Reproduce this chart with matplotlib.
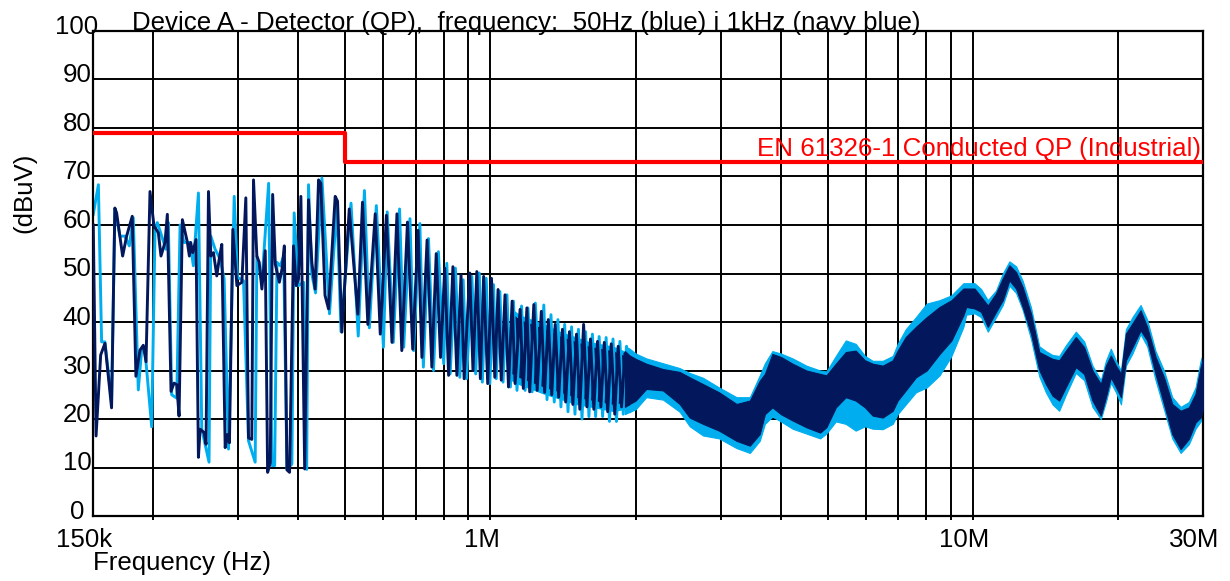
import matplotlib
matplotlib.use("Agg")
import matplotlib.pyplot as plt
import numpy as np

plt.rcParams['font.family'] = ['Liberation Sans', 'DejaVu Sans']

TITLE = "Device A - Detector (QP),  frequency:  50Hz (blue) i 1kHz (navy blue)"
YLABEL = "(dBuV)"
XLABEL = "Frequency (Hz)"
LIMIT_LABEL = "EN 61326-1 Conducted QP (Industrial)"

# limit line (kHz, dBuV), drawn as a post-step
limit_freq_khz = [150, 500, 30000]
limit_db = [79, 73, 73]

# x tick labels
xtick_khz = [150, 1000, 10000, 30000]
xtick_labels = ["150k", "1M", "10M", "30M"]
ytick_values = [0, 10, 20, 30, 40, 50, 60, 70, 80, 90, 100]

# vertical grid (kHz)
xgrid_khz = [200, 300, 400, 500, 600, 700, 800, 900, 1000, 2000, 3000, 4000,
             5000, 6000, 7000, 8000, 9000, 10000, 20000]

# ---- 1 kHz (navy) trace, resolved region: frequency kHz / level dBuV
navy_freq = [150.2, 152.2, 155.6, 158.8, 163.9, 166.5, 167.9, 172.8, 176.1, 180.9,
             184.1, 187.7, 190.7, 193.2, 196.9, 200.7, 204.9, 207.5, 211.5, 213.9,
             217.7, 220.8, 223.7, 226.2, 229.8, 235.4, 237.6, 239.1, 241.4, 245.3,
             248.1, 250.1, 254.9, 257.3, 260.3, 263.2, 266.6, 270.8, 274.3, 277.4,
             281.9, 285.0, 287.7, 292.4, 298.1, 305.3, 311.1, 315.1, 320.1, 322.7,
             327.9, 331.6, 335.9, 341.3, 345.2, 349.6, 353.6, 358.1, 365.1, 369.7,
             373.9, 378.6, 383.3, 390.6, 395.6, 400.0, 404.6, 412.0, 419.6, 426.3,
             433.0, 440.2, 445.0, 454.0, 461.7, 476.6, 482.0, 492.0, 509.7, 531.0,
             543.0, 557.0, 577.0, 591.0, 608.6, 625.0, 640.0, 655.0, 673.0, 690.0,
             708.0, 721.0, 739.0, 756.0, 772.0, 788.0, 804.0, 819.0, 836.0, 852.0,
             869.0, 882.0, 906.0, 920.0, 937.0, 953.0, 968.0, 987.0, 1005.0, 1021.0,
             1037.0, 1053.0, 1072.0, 1090.0, 1109.0, 1125.0, 1152.0, 1170.0, 1190.0, 1206.0,
             1230.0, 1250.0, 1275.0, 1295.0, 1318.0, 1340.0, 1362.0, 1385.0, 1410.0, 1432.0,
             1458.0, 1482.0, 1508.0, 1532.0, 1560.0, 1585.0, 1612.0, 1638.0, 1667.0, 1694.0,
             1722.0, 1750.0, 1780.0, 1810.0, 1840.0, 1870.0, 1900.0, 1930.0]
navy_db = [60.0, 16.5, 33.2, 35.6, 22.3, 63.5, 62.5, 53.6, 57.7, 61.8,
           28.8, 34.2, 35.2, 31.8, 66.9, 59.8, 58.4, 53.6, 56.4, 62.2,
           25.7, 27.4, 27.1, 20.6, 61.1, 56.4, 53.6, 56.4, 54.3, 57.0,
           12.1, 17.9, 17.2, 14.8, 66.9, 53.6, 54.3, 49.5, 53.3, 56.0,
           14.1, 16.8, 15.1, 59.1, 47.5, 48.2, 65.6, 16.1, 15.8, 69.3,
           53.6, 52.3, 46.8, 54.7, 9.0, 11.0, 66.3, 51.9, 48.2, 50.9,
           55.7, 9.5, 9.0, 55.7, 47.5, 48.9, 65.9, 9.7, 65.2, 52.3,
           46.8, 69.3, 68.6, 45.5, 42.7, 65.9, 64.9, 37.9, 63.3, 41.6,
           64.7, 39.5, 62.3, 37.5, 62.0, 35.8, 62.3, 34.1, 60.6, 34.4,
           58.9, 32.7, 56.9, 30.7, 54.1, 32.7, 51.1, 29.0, 51.4, 29.0,
           49.7, 28.3, 50.1, 30.0, 50.4, 28.3, 49.4, 27.3, 49.0, 28.6,
           46.7, 28.0, 45.6, 26.6, 44.3, 27.3, 42.6, 26.3, 42.9, 25.6,
           43.6, 25.9, 42.2, 25.5, 40.5, 25.0, 39.5, 24.5, 38.5, 23.5,
           38.0, 23.0, 37.5, 22.0, 39.5, 22.5, 36.5, 22.0, 36.0, 22.5,
           35.8, 21.5, 35.5, 21.0, 35.0, 22.5, 33.5, 23.0]

# ---- 50 Hz (light blue) trace, resolved region
blue_freq = [150.2, 153.9, 156.3, 158.8, 163.9, 166.5, 170.6, 174.7, 178.4, 181.8,
             186.2, 189.2, 192.2, 198.5, 201.7, 203.9, 208.2, 212.5, 214.9, 218.4,
             223.7, 227.3, 231.6, 238.4, 242.2, 248.1, 252.1, 261.0, 263.2, 268.7,
             275.2, 280.5, 286.4, 294.3, 299.0, 307.7, 315.1, 325.3, 327.9, 335.9,
             346.9, 352.4, 357.0, 361.0, 366.8, 372.7, 378.6, 387.6, 391.8, 400.0,
             409.8, 416.0, 419.6, 426.0, 434.0, 447.3, 463.8, 480.5, 490.0, 514.0,
             532.0, 548.0, 561.0, 580.0, 600.0, 611.0, 629.0, 648.0, 661.0, 681.0,
             693.0, 714.0, 726.0, 744.0, 762.0, 780.0, 800.0, 812.0, 825.0, 846.0,
             864.0, 878.0, 892.0, 915.0, 932.0, 948.0, 962.0, 980.0, 997.0, 1015.0,
             1028.0, 1046.0, 1062.0, 1082.0, 1100.0, 1116.0, 1135.0, 1160.0, 1180.0, 1196.0,
             1220.0, 1239.0, 1265.0, 1290.0, 1310.0, 1335.0, 1356.0, 1380.0, 1400.0, 1425.0,
             1448.0, 1473.0, 1497.0, 1522.0, 1548.0, 1575.0, 1600.0, 1627.0, 1652.0, 1680.0,
             1708.0, 1737.0, 1765.0, 1795.0, 1825.0, 1855.0, 1885.0, 1915.0, 1945.0]
blue_db = [62.2, 68.3, 35.9, 35.9, 23.6, 63.2, 57.7, 57.7, 55.7, 61.5,
           26.0, 34.2, 34.2, 18.4, 59.1, 60.5, 57.7, 55.0, 60.5, 25.0,
           24.3, 60.0, 56.4, 56.4, 51.6, 66.6, 17.9, 11.1, 57.7, 55.0,
           53.0, 48.9, 13.8, 65.9, 49.2, 48.5, 15.5, 11.1, 53.6, 48.2,
           68.6, 10.4, 10.4, 52.3, 51.6, 53.6, 9.7, 10.7, 62.5, 47.5,
           48.2, 9.6, 68.3, 50.0, 46.0, 69.7, 41.7, 63.9, 38.0, 64.5,
           37.1, 67.1, 38.8, 64.0, 34.8, 62.7, 35.8, 63.3, 34.8, 61.3,
           34.1, 60.3, 30.7, 57.2, 30.0, 54.5, 31.4, 52.1, 29.3, 51.1,
           28.6, 48.7, 28.3, 49.4, 29.3, 50.1, 27.6, 49.0, 27.3, 47.7,
           28.3, 46.3, 27.6, 45.6, 26.6, 44.3, 25.9, 43.3, 25.9, 42.9,
           25.6, 43.9, 25.9, 43.5, 24.0, 41.5, 23.5, 40.5, 22.5, 39.5,
           21.5, 39.0, 21.0, 38.5, 20.0, 38.0, 20.5, 37.5, 20.5, 37.0,
           20.5, 36.8, 19.5, 36.5, 19.5, 36.0, 21.0, 35.0, 21.5]

# ---- packed core of the traces between ~1.1 MHz and ~1.95 MHz (kHz, upper, lower)
core_freq = [1100, 1150, 1300, 1400, 1500, 1600, 1700, 1800, 1900, 1950]
navy_core_upper = [42.0, 40.5, 38.5, 37.0, 36.0, 35.0, 34.5, 34.0, 33.0, 33.0]
navy_core_lower = [29.5, 28.5, 26.5, 25.5, 24.5, 24.0, 23.5, 23.0, 23.5, 23.5]
blue_core_upper = [43.0, 41.5, 39.5, 38.0, 37.0, 36.0, 35.5, 35.0, 34.0, 34.0]
blue_core_lower = [28.0, 27.0, 25.0, 24.0, 23.0, 22.5, 22.0, 21.5, 22.0, 22.0]

# ---- dense region: envelope of each trace (kHz, upper dBuV, lower dBuV)
band_freq = [1900, 1943, 2000, 2104, 2278,
             2467, 2588, 2758, 2978, 3237, 3449, 3616, 3706, 3841, 4000,
             4229, 4517, 4824, 4970, 5200, 5452, 5717, 5975, 6200, 6504,
             6823, 6985, 7259, 7621, 8024, 8532, 9030, 9560, 9688, 10080,
             10400, 10740, 11170, 11535, 11905, 12290, 12685, 13200, 13730, 14170,
             14630, 15100, 15590, 16350, 17010, 17700, 18420, 18870, 19320, 19800,
             20280, 20760, 21420, 22270, 22980, 23920, 24900, 25900, 26960, 28040,
             28950, 29660, 30000]
navy_upper = [34.0, 33.1, 32.4, 31.4, 30.3,
              29.7, 28.6, 27.2, 25.5, 23.1, 23.8, 27.9, 29.3, 33.4, 32.8,
              31.4, 30.0, 29.3, 29.0, 31.4, 33.8, 34.1, 32.1, 31.4, 31.0,
              32.1, 34.1, 36.9, 39.0, 41.0, 43.1, 44.5, 46.9, 46.9, 46.9,
              45.2, 43.4, 45.9, 49.0, 51.7, 50.3, 47.2, 41.7, 33.8, 33.1,
              32.4, 32.1, 34.1, 36.9, 34.8, 30.0, 27.2, 31.0, 33.1, 31.0,
              29.3, 37.6, 39.7, 42.4, 39.0, 32.8, 28.6, 23.1, 21.7, 22.4,
              25.2, 30.7, 32.4]
navy_lower = [22.5, 23.1, 23.8, 26.2, 25.9,
              23.1, 20.3, 19.0, 17.6, 15.5, 14.5, 16.9, 21.0, 22.4, 21.0,
              19.7, 18.3, 17.2, 18.3, 22.4, 24.5, 23.8, 22.4, 20.7, 20.3,
              21.7, 23.8, 25.9, 28.6, 30.0, 33.4, 36.2, 41.4, 43.1, 42.8,
              42.1, 39.0, 42.1, 44.5, 48.6, 46.9, 43.1, 37.6, 30.1, 27.2,
              24.8, 23.8, 26.6, 30.7, 29.3, 23.8, 20.7, 24.5, 28.6, 26.6,
              24.5, 32.1, 34.8, 38.3, 36.2, 29.3, 23.1, 16.9, 13.8, 15.9,
              19.3, 20.3, 22.0]
blue_upper = [35.0, 34.5, 33.5, 32.5, 31.5,
              30.5, 29.5, 28.5, 26.5, 24.5, 24.5, 29.0, 31.5, 34.0, 33.5,
              32.5, 31.0, 30.0, 29.8, 33.0, 36.2, 35.5, 33.0, 32.0, 32.0,
              33.0, 35.5, 38.5, 41.0, 43.8, 44.5, 45.5, 48.0, 48.0, 48.0,
              46.8, 44.5, 46.5, 50.0, 52.5, 51.5, 48.5, 43.0, 35.0, 34.0,
              33.2, 33.0, 35.2, 38.0, 36.0, 31.0, 28.0, 32.0, 34.5, 32.0,
              30.0, 38.5, 41.0, 43.5, 40.5, 34.0, 30.0, 24.5, 22.5, 23.5,
              26.5, 32.0, 33.5]
blue_lower = [21.0, 21.5, 22.0, 24.5, 24.0,
              21.5, 18.5, 16.6, 16.0, 14.0, 13.0, 15.5, 19.0, 20.5, 19.5,
              18.0, 17.0, 16.0, 17.0, 19.5, 19.0, 17.6, 18.5, 18.0, 17.9,
              19.0, 21.0, 23.0, 25.5, 26.5, 29.0, 33.0, 39.0, 41.5, 41.8,
              41.0, 38.0, 41.0, 43.5, 47.5, 46.0, 42.5, 36.5, 28.8, 25.5,
              23.0, 21.7, 25.0, 29.5, 28.0, 22.5, 20.0, 23.5, 27.5, 25.5,
              23.0, 31.0, 33.5, 37.5, 35.0, 28.0, 22.0, 16.0, 13.0, 14.8,
              18.0, 19.5, 21.0]

LIGHT = '#00AEEF'
NAVY = '#03185C'
W, H = 1230, 581

fig = plt.figure(figsize=(W / 100, H / 100), dpi=100)
ax = fig.add_axes([93 / W, 1 - 516 / H, 1110 / W, 485 / H])
ax.set_xscale('log')

khz = lambda v: np.asarray(v, dtype=float) * 1e3

ax.fill_between(khz(core_freq), blue_core_lower, blue_core_upper, color=LIGHT, lw=0, zorder=1.8)
ax.fill_between(khz(core_freq), navy_core_lower, navy_core_upper, color=NAVY, lw=0, zorder=1.9)
ax.fill_between(khz(band_freq), blue_lower, blue_upper, color=LIGHT, lw=0.8, zorder=2)
ax.plot(khz(blue_freq), blue_db, color=LIGHT, lw=2.1, zorder=2)
ax.fill_between(khz(band_freq), navy_lower, navy_upper, color=NAVY, lw=0.8, zorder=3)
ax.plot(khz(navy_freq), navy_db, color=NAVY, lw=2.1, zorder=3)

ax.step(khz(limit_freq_khz), limit_db, where='post', color='#FF0000', lw=3.0, zorder=4)

ax.set_xlim(150e3, 30e6)
ax.set_ylim(0, 100)
ax.set_xticks(khz(xgrid_khz))
ax.xaxis.set_minor_locator(matplotlib.ticker.NullLocator())
ax.set_yticks(ytick_values)
ax.grid(True, color='black', lw=1.4, zorder=1)
ax.set_axisbelow(True)
ax.tick_params(axis='x', length=3, width=1.4, direction='out', labelbottom=False)
ax.tick_params(axis='y', length=0, labelleft=False)
for s in ax.spines.values():
    s.set_linewidth(1.6)
    s.set_color('black')

FS = 18.6
for v in ytick_values:
    ax.annotate(str(v), xy=(0, v), xycoords=('axes fraction', 'data'),
                xytext=(-16, -3), textcoords='offset pixels',
                ha='center', va='baseline', fontsize=FS)
for f, lab in zip(xtick_khz, xtick_labels):
    ax.annotate(lab, xy=(f * 1e3, 0), xycoords=('data', 'axes fraction'),
                xytext=(-9, -31), textcoords='offset pixels',
                ha='center', va='baseline', fontsize=FS)

ax.annotate(LIMIT_LABEL, xy=(1, limit_db[-1]), xycoords=('axes fraction', 'data'),
            xytext=(-2, 6), textcoords='offset pixels', ha='right', va='baseline',
            fontsize=FS, color='#FF0000', zorder=5)

fig.text(132 / W, 1 - 30 / H, TITLE, fontsize=FS, ha='left', va='baseline')
fig.text(93 / W, 1 - 570 / H, XLABEL, fontsize=FS, ha='left', va='baseline')
fig.text(24 / W, 1 - 193 / H, YLABEL, fontsize=FS, ha='center', va='center', rotation=90)

fig.savefig('out.png', dpi=100)
